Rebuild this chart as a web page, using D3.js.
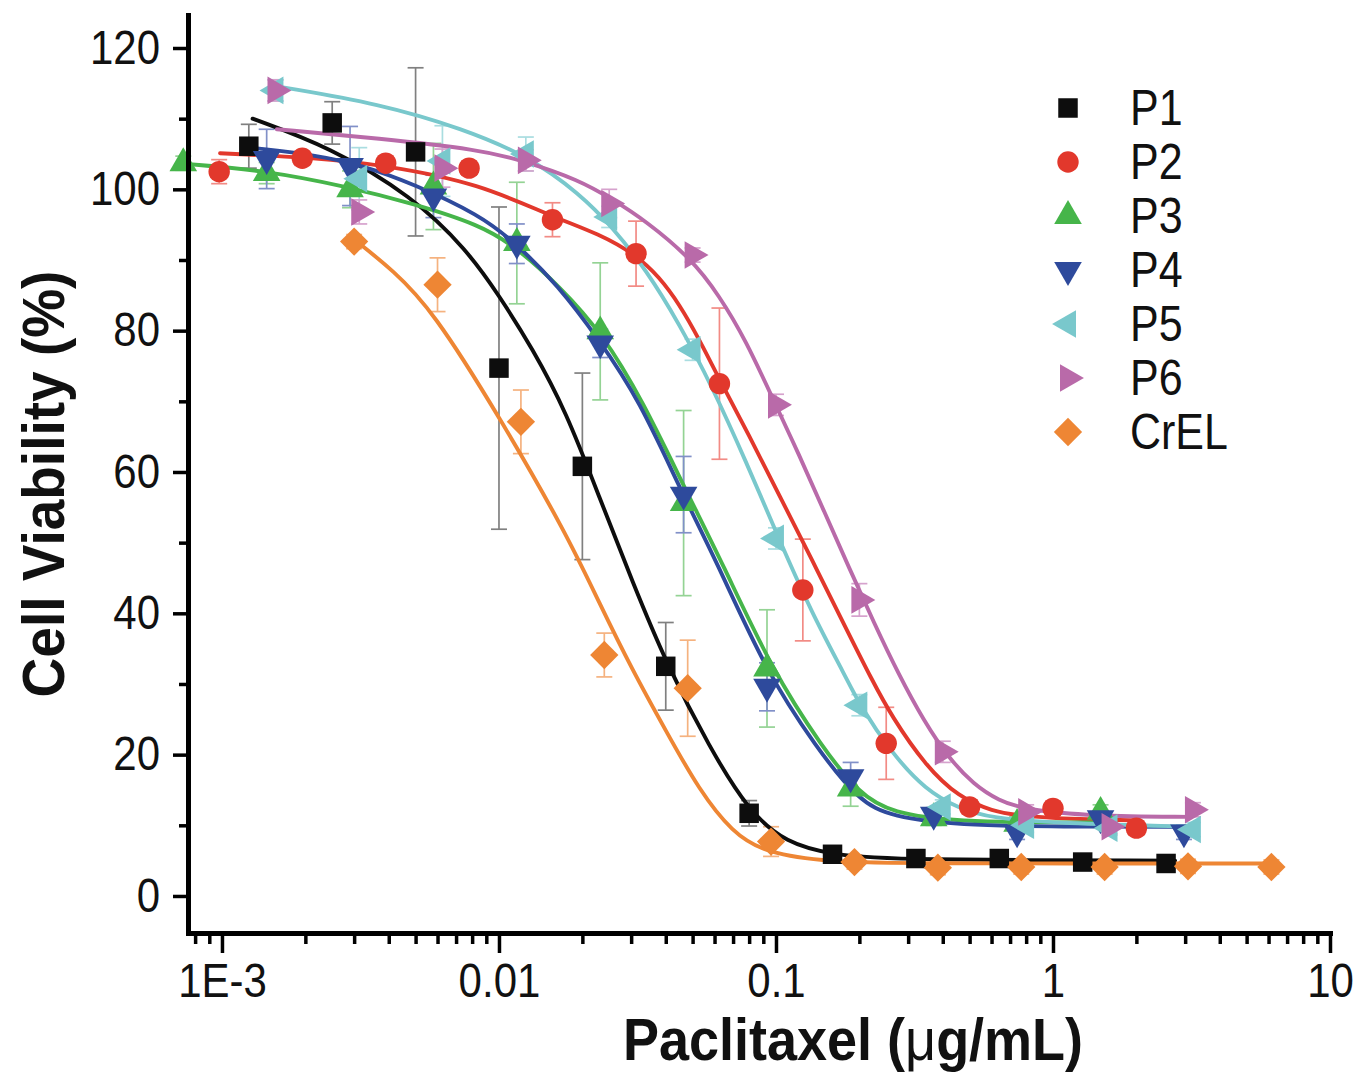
<!DOCTYPE html>
<html>
<head>
<meta charset="utf-8">
<script src="https://cdn.jsdelivr.net/npm/d3@7"></script>
<style>
  html, body { margin: 0; padding: 0; background: #fff; }
  svg { display: block; font-family: "Liberation Sans", Arial, Helvetica, sans-serif; }
</style>
</head>
<body>
<svg id="chart" width="1361" height="1076"></svg>
<script>
// ── Data ─────────────────────────────────────────────────────────────────
const seriesNames = ['P1', 'P2', 'P3', 'P4', 'P5', 'P6', 'CrEL'];

// measured points: concentration (µg/mL), viability (%), error (±%)
const p1Conc = [0.00125, 0.0025, 0.005, 0.01, 0.02, 0.04, 0.08, 0.16, 0.32, 0.64, 1.28, 2.56];
const p1Viab = [106.1, 109.4, 105.3, 74.7, 60.8, 32.5, 11.7, 5.9, 5.3, 5.3, 4.8, 4.6];
const p1Err  = [3.1, 3.0, 11.9, 22.8, 13.2, 6.2, 1.8, 0.8, 0.8, 0.8, 0.8, 0.8];

const p2Conc = [0.000977, 0.00195, 0.0039, 0.0078, 0.0156, 0.03125, 0.0625, 0.125, 0.25, 0.5, 1, 2];
const p2Viab = [102.5, 104.4, 103.7, 103.0, 95.7, 90.9, 72.5, 43.3, 21.6, 12.6, 12.4, 9.6];
const p2Err  = [1.7, 1.0, 1.0, 1.0, 2.4, 4.6, 10.7, 7.2, 5.1, 1.0, 1.0, 1.0];

const p3Conc = [0.000725, 0.00145, 0.0029, 0.0058, 0.0116, 0.0232, 0.0464, 0.0928, 0.186, 0.371, 0.742, 1.485];
const p3Viab = [103.7, 102.3, 100.0, 100.4, 92.4, 79.9, 55.6, 32.2, 15.2, 11.0, 10.2, 11.9];
const p3Err  = [1.0, 1.5, 2.6, 6.1, 8.6, 9.7, 13.1, 8.3, 2.5, 1.0, 1.0, 1.0];

const p4Conc = [0.00145, 0.0029, 0.0058, 0.0116, 0.0232, 0.0464, 0.0928, 0.186, 0.371, 0.742, 1.485, 2.97];
const p4Viab = [104.3, 103.3, 99.0, 92.3, 78.2, 56.8, 29.6, 16.8, 11.5, 9.0, 11.0, 9.0];
const p4Err  = [4.2, 5.6, 3.0, 2.8, 2.0, 5.4, 3.4, 2.1, 1.0, 1.0, 1.0, 1.0];

const p5Conc = [0.00156, 0.00313, 0.00625, 0.0125, 0.025, 0.05, 0.1, 0.2, 0.4, 0.8, 1.6, 3.2];
const p5Viab = [114.0, 101.5, 104.0, 105.0, 96.1, 77.3, 50.6, 27.0, 12.6, 10.0, 9.6, 9.4];
const p5Err  = [1.5, 4.4, 5.0, 2.4, 1.5, 1.5, 1.5, 1.5, 1.0, 1.0, 1.0, 1.0];

const p6Conc = [0.00156, 0.00313, 0.00625, 0.0125, 0.025, 0.05, 0.1, 0.2, 0.4, 0.8, 1.6, 3.2];
const p6Viab = [114.0, 96.8, 103.0, 104.1, 98.0, 90.7, 69.5, 41.9, 20.4, 11.9, 9.8, 12.2];
const p6Err  = [1.5, 1.7, 2.7, 1.5, 2.0, 1.0, 1.5, 2.3, 1.5, 1.0, 1.0, 1.0];

const crelConc = [0.003, 0.006, 0.012, 0.024, 0.048, 0.096, 0.192, 0.384, 0.768, 1.536, 3.072, 6.144];
const crelViab = [92.6, 86.5, 67.1, 34.1, 29.4, 7.7, 4.8, 4.0, 4.1, 4.1, 4.2, 4.1];
const crelErr  = [1.0, 3.8, 4.5, 3.1, 6.8, 2.1, 1.0, 1.0, 1.0, 1.0, 1.0, 1.0];

// fitted dose-response curves
const p1FitConc = [0.00129, 0.00245, 0.00488, 0.00764, 0.0100, 0.0132, 0.0175, 0.0230, 0.0303, 0.0405, 0.0574, 0.0799, 0.109, 0.159, 0.278, 2.76];
const p1FitViab = [110.0, 106.0, 99.0, 91.5, 85.0, 77.5, 68.5, 56.5, 44.5, 32.6, 21.1, 11.9, 7.5, 5.8, 5.1, 5.0];

const p2FitConc = [0.000984, 0.00213, 0.00393, 0.00851, 0.0156, 0.0230, 0.0313, 0.0379, 0.0447, 0.0528, 0.0623, 0.0799, 0.1025, 0.1348, 0.1788, 0.2218, 0.2618, 0.347, 0.4565, 0.600, 0.796, 1.376, 2.03];
const p2FitViab = [105.1, 104.5, 103.4, 100.8, 96.1, 93.7, 90.7, 87.6, 83.8, 78.8, 73.2, 65.2, 56.8, 47.6, 37.9, 30.6, 25.4, 18.4, 14.0, 12.0, 11.2, 10.8, 10.7];

const p3FitConc = [0.000742, 0.00141, 0.00282, 0.00488, 0.00851, 0.01156, 0.01652, 0.0236, 0.0329, 0.0474, 0.0639, 0.0967, 0.1465, 0.1991, 0.2618, 0.4565, 1.047, 1.459];
const p3FitViab = [103.6, 102.7, 100.4, 98.0, 95.0, 91.8, 86.3, 79.6, 70.2, 57.3, 47.2, 32.0, 21.1, 14.5, 11.7, 10.5, 10.4, 10.4];

const p4FitConc = [0.001337, 0.00213, 0.00322, 0.00488, 0.00851, 0.01156, 0.01625, 0.0230, 0.0321, 0.0458, 0.0608, 0.0920, 0.1393, 0.1991, 0.2618, 0.4565, 1.047, 3.156];
const p4FitViab = [105.8, 104.9, 103.4, 100.8, 96.4, 92.3, 86.5, 78.7, 70.2, 57.0, 47.5, 31.8, 21.1, 13.4, 11.2, 10.0, 9.8, 9.8];

const p5FitConc = [0.001618, 0.003711, 0.007386, 0.01288, 0.0195, 0.02564, 0.0340, 0.04472, 0.05881, 0.07795, 0.1025, 0.1348, 0.1788, 0.1991, 0.2618, 0.3471, 0.4565, 0.6003, 1.047, 3.156];
const p5FitViab = [114.5, 112.1, 108.6, 104.6, 99.4, 94.7, 88.6, 81.0, 72.1, 61.5, 50.5, 40.0, 31.0, 27.2, 20.2, 15.0, 12.4, 11.0, 10.3, 9.8];

const p6FitConc = [0.001578, 0.003711, 0.008507, 0.01215, 0.0195, 0.02564, 0.0340, 0.0494, 0.06231, 0.07795, 0.09835, 0.1210, 0.1489, 0.1833, 0.2255, 0.2775, 0.3414, 0.4201, 0.5170, 0.6362, 0.7961, 1.376, 3.156];
const p6FitViab = [108.5, 107.2, 105.6, 104.1, 101.3, 98.6, 95.5, 90.2, 85.0, 78.6, 70.0, 62.5, 54.5, 46.5, 38.7, 31.3, 24.8, 19.5, 15.8, 13.5, 12.2, 11.3, 11.2];

const crelFitConc = [0.003066, 0.004132, 0.005758, 0.01004, 0.01751, 0.0230, 0.03027, 0.04014, 0.05279, 0.06941, 0.09204, 0.1591, 0.2775, 6.13];
const crelFitViab = [92.6, 88.6, 82.9, 67.8, 51.3, 41.5, 32.0, 23.3, 15.0, 9.0, 6.0, 4.8, 4.6, 4.6];

// axis ticks
const xTickValues = [0.001, 0.01, 0.1, 1, 10];
const xTickLabels = ['1E-3', '0.01', '0.1', '1', '10'];
const yTickValues = [0, 20, 40, 60, 80, 100, 120];
const yMinorTickValues = [10, 30, 50, 70, 90, 110];

// ── Styles ───────────────────────────────────────────────────────────────
const lineColors  = ['#0d0d0d', '#e2382c', '#46b54a', '#2e4a9c', '#79c8cc', '#b96aa9', '#ee8634'];
const errorColors = ['#808080', '#f28b85', '#94d394', '#8190c8', '#a9dde0', '#d6a2cd', '#f5b27f'];
const markerShapes = ['square', 'circle', 'up', 'down', 'left', 'right', 'diamond'];

const conc = [p1Conc, p2Conc, p3Conc, p4Conc, p5Conc, p6Conc, crelConc];
const viab = [p1Viab, p2Viab, p3Viab, p4Viab, p5Viab, p6Viab, crelViab];
const errs = [p1Err, p2Err, p3Err, p4Err, p5Err, p6Err, crelErr];
const fitConc = [p1FitConc, p2FitConc, p3FitConc, p4FitConc, p5FitConc, p6FitConc, crelFitConc];
const fitViab = [p1FitViab, p2FitViab, p3FitViab, p4FitViab, p5FitViab, p6FitViab, crelFitViab];

const series = seriesNames.map((name, i) => ({
	name,
	color: lineColors[i],
	errColor: errorColors[i],
	shape: markerShapes[i],
	points: conc[i].map((c, j) => ({ c, v: viab[i][j], e: errs[i][j] })),
	fit: fitConc[i].map((c, j) => ({ c, v: fitViab[i][j] })),
}));

const TICK_FONT = 42;
const TEXT_STRETCH = 1.14;

const svg = d3.select('#chart');
svg.append('rect').attr('width', 1361).attr('height', 1076).attr('fill', '#fff');

const x = d3.scaleLog().domain([0.000754, 10]).range([188, 1330]);
const y = d3.scaleLinear().domain([-5.24, 124.67]).range([933, 15]);

function markerPath(shape) {
	const gen = d3.symbol();
	if (shape === 'square') return gen.type(d3.symbolSquare).size(380)();
	if (shape === 'circle') return gen.type(d3.symbolCircle).size(360)();
	if (shape === 'diamond') return gen.type(d3.symbolSquare).size(400)();
	return gen.type(d3.symbolTriangle).size(330)();
}
function markerRotate(shape) {
	return { diamond: 45, down: 180, left: -90, right: 90 }[shape] || 0;
}

// ── Error bars ───────────────────────────────────────────────────────────
const errLayer = svg.append('g');
series.forEach((s) => {
	const g = errLayer.append('g').attr('stroke', s.errColor).attr('stroke-width', 1.7).attr('fill', 'none');
	s.points.forEach((p) => {
		const px = x(p.c);
		const top = y(p.v + p.e);
		const bot = y(p.v - p.e);
		g.append('line').attr('x1', px).attr('x2', px).attr('y1', top).attr('y2', bot);
		g.append('line').attr('x1', px - 8).attr('x2', px + 8).attr('y1', top).attr('y2', top);
		g.append('line').attr('x1', px - 8).attr('x2', px + 8).attr('y1', bot).attr('y2', bot);
	});
});

// ── Fitted curves ────────────────────────────────────────────────────────
// basis spline smooths out the small jitter of the traced points
const line = d3.line().x((d) => x(d.c)).y((d) => y(d.v)).curve(d3.curveBasis);
svg.append('g').selectAll('path').data(series).join('path')
	.attr('d', (s) => line(s.fit))
	.attr('fill', 'none')
	.attr('stroke', (s) => s.color)
	.attr('stroke-width', 3.9)
	.attr('stroke-linecap', 'round');

// ── Markers ──────────────────────────────────────────────────────────────
series.forEach((s) => {
	svg.append('g').selectAll('path').data(s.points).join('path')
		.attr('d', markerPath(s.shape))
		.attr('transform', (p) => `translate(${x(p.c)},${y(p.v)}) rotate(${markerRotate(s.shape)})`)
		.attr('fill', s.color);
});

// ── Axes ─────────────────────────────────────────────────────────────────
const xMinor = [];
for (let d = -4; d <= 0; d++) {
	for (let k = 2; k <= 9; k++) {
		const v = k * Math.pow(10, d);
		if (v >= x.domain()[0] && v <= x.domain()[1]) xMinor.push(v);
	}
}

const axisStyle = (g) => {
	g.selectAll('.tick line').attr('stroke', '#000').attr('stroke-width', 3.5);
	g.select('.domain').attr('stroke', '#000').attr('stroke-width', 5).attr('stroke-linecap', 'square');
};

svg.append('g')
	.attr('transform', `translate(0,${y.range()[0]})`)
	.call(d3.axisBottom(x).tickValues(xMinor).tickSize(11).tickFormat(''))
	.call((g) => g.select('.domain').remove())
	.call(axisStyle);

svg.append('g')
	.attr('transform', `translate(${x.range()[0]},0)`)
	.call(d3.axisLeft(y).tickValues(yMinorTickValues).tickSize(9).tickFormat(''))
	.call((g) => g.select('.domain').remove())
	.call(axisStyle);

const xAxisG = svg.append('g')
	.attr('transform', `translate(0,${y.range()[0]})`)
	.call(d3.axisBottom(x).tickValues(xTickValues).tickSize(20).tickSizeOuter(0).tickPadding(6)
		.tickFormat((d, i) => xTickLabels[i]))
	.call(axisStyle);

const yAxisG = svg.append('g')
	.attr('transform', `translate(${x.range()[0]},0)`)
	.call(d3.axisLeft(y).tickValues(yTickValues).tickSize(15).tickSizeOuter(0).tickPadding(13))
	.call(axisStyle);

[xAxisG, yAxisG].forEach((g) => {
	g.attr('font-family', null).attr('font-size', null);
	g.selectAll('text')
		.attr('fill', '#111')
		.attr('font-size', TICK_FONT)
		.attr('transform', `scale(1,${TEXT_STRETCH})`);
});

// ── Axis titles ──────────────────────────────────────────────────────────
svg.append('text')
	.attr('transform', 'translate(64,484) rotate(-90) scale(1,1.08)')
	.attr('text-anchor', 'middle')
	.attr('font-weight', 'bold')
	.attr('font-size', 55)
	.attr('fill', '#111')
	.text('Cell Viability (%)');

const xTitle = svg.append('text')
	.attr('transform', 'translate(853,1060) scale(1,1.08)')
	.attr('text-anchor', 'middle')
	.attr('font-weight', 'bold')
	.attr('font-size', 54)
	.attr('fill', '#111');
xTitle.append('tspan').text('Paclitaxel (');
xTitle.append('tspan').attr('font-weight', 'normal').text('μ');
xTitle.append('tspan').text('g/mL)');

// ── Legend ───────────────────────────────────────────────────────────────
const legend = svg.append('g').attr('transform', 'translate(1068,108)');
const rows = legend.selectAll('g').data(series).join('g')
	.attr('transform', (s, i) => `translate(0,${i * 54})`);
rows.append('path')
	.attr('d', (s) => markerPath(s.shape))
	.attr('transform', (s) => `rotate(${markerRotate(s.shape)})`)
	.attr('fill', (s) => s.color);
rows.append('text')
	.attr('transform', `translate(62,17) scale(1,${TEXT_STRETCH})`)
	.attr('font-size', 43)
	.attr('fill', '#111')
	.text((s) => s.name);
</script>
</body>
</html>
